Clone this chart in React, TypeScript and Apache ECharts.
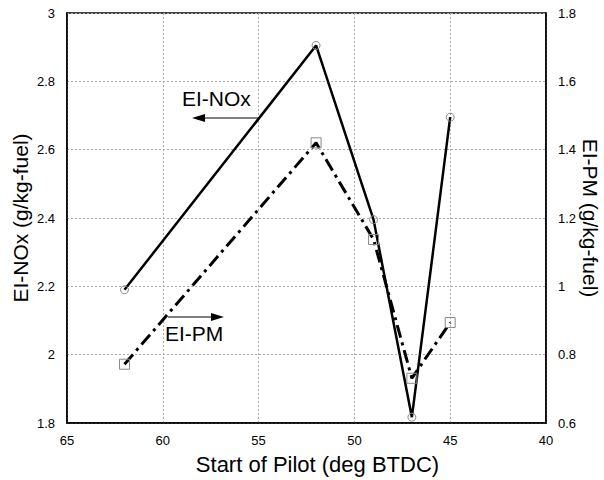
import React, { useEffect, useRef } from "react";
import * as echarts from "echarts";

const pilotStart = [62, 52, 49, 47, 45];
const eiNOx = [2.19, 2.905, 2.395, 1.817, 2.695];
const eiPM = [0.772, 1.42, 1.137, 0.731, 0.894];

const xTitle = "Start of Pilot (deg BTDC)";
const yLeftTitle = "EI-NOx (g/kg-fuel)";
const yRightTitle = "EI-PM (g/kg-fuel)";

const FONT = 'Arial, "Liberation Sans", sans-serif';

export default function App() {
  const ref = useRef<HTMLDivElement>(null);
  useEffect(() => {
    if (!ref.current) return;
    const chart = echarts.init(ref.current, null, { renderer: "svg" });
    const noxData = pilotStart.map((x, i) => [x, eiNOx[i]]);
    const pmData = pilotStart.map((x, i) => [x, eiPM[i]]);
    const splitLine = { show: true, lineStyle: { color: "#aaa", type: [2, 2] as any, width: 1 } };
    chart.setOption({
      animation: false,
      backgroundColor: "#fff",
      textStyle: { fontFamily: FONT },
      grid: {
        left: 67, right: 58, top: 13, bottom: 57,
        outerBoundsMode: "none",
        containLabel: false,
        show: true, borderColor: "#000", borderWidth: 1.5, backgroundColor: "transparent",
      },
      xAxis: {
        type: "value",
        inverse: true,
        min: 40,
        max: 65,
        interval: 5,
        name: xTitle,
        nameLocation: "middle",
        nameGap: 30,
        nameMoveOverlap: false,
        nameTextStyle: { fontSize: 22, color: "#000", fontFamily: FONT, padding: [0, 0, 0, 22] },
        axisLine: { show: true, lineStyle: { color: "#000", width: 1.5 } },
        axisTick: { show: false },
        axisLabel: { fontSize: 13, color: "#000", margin: 11, fontFamily: FONT },
        splitLine,
      },
      yAxis: [
        {
          type: "value",
          min: 1.8,
          max: 3,
          interval: 0.2,
          name: yLeftTitle,
          nameLocation: "middle",
          nameRotate: 90,
          nameGap: 36,
          nameMoveOverlap: false,
          nameTextStyle: { fontSize: 21, color: "#000", fontFamily: FONT },
          axisLine: { show: true, lineStyle: { color: "#000", width: 1.5 } },
          axisTick: { show: false },
          axisLabel: { fontSize: 13, color: "#000", margin: 12, fontFamily: FONT },
          splitLine,
        },
        {
          type: "value",
          min: 0.6,
          max: 1.8,
          interval: 0.2,
          position: "right",
          name: yRightTitle,
          nameLocation: "middle",
          nameRotate: -90,
          nameGap: 34,
          nameMoveOverlap: false,
          nameTextStyle: { fontSize: 21, color: "#000", fontFamily: FONT },
          axisLine: { show: true, lineStyle: { color: "#000", width: 1.5 } },
          axisTick: { show: false },
          axisLabel: { fontSize: 13, color: "#000", margin: 12, fontFamily: FONT },
          splitLine: { show: false },
        },
      ],
      series: [
        {
          name: "EI-NOx",
          type: "line",
          yAxisIndex: 0,
          data: noxData,
          symbol: "circle",
          symbolSize: 8,
          lineStyle: { color: "#000", width: 2.5 },
          itemStyle: { color: "rgba(0,0,0,0)", borderColor: "#888", borderWidth: 1 },
          z: 3,
        },
        {
          name: "EI-PM",
          type: "line",
          yAxisIndex: 1,
          data: pmData,
          symbol: "rect",
          symbolSize: 10,
          lineStyle: { color: "#000", width: 3, type: [13, 5, 3, 5] as any },
          itemStyle: { color: "rgba(0,0,0,0)", borderColor: "#888", borderWidth: 1 },
          z: 3,
        },
      ],
      graphic: [
        { type: "text", left: 182, top: 88, style: { text: "EI-NOx", fontSize: 21, fill: "#000", fontFamily: FONT } },
        { type: "line", shape: { x1: 200, y1: 118, x2: 258, y2: 118 }, style: { stroke: "#000", lineWidth: 1 } },
        { type: "polygon", shape: { points: [[192, 118], [205, 114], [205, 122]] }, style: { fill: "#000" } },
        { type: "text", left: 165, top: 323, style: { text: "EI-PM", fontSize: 21, fill: "#000", fontFamily: FONT } },
        { type: "line", shape: { x1: 168, y1: 317, x2: 216, y2: 317 }, style: { stroke: "#000", lineWidth: 1 } },
        { type: "polygon", shape: { points: [[224, 317], [211, 313], [211, 321]] }, style: { fill: "#000" } },
      ],
    });
    return () => chart.dispose();
  }, []);
  return <div ref={ref} style={{ width: 604, height: 480, position: "absolute", left: 0, top: 0 }} />;
}
